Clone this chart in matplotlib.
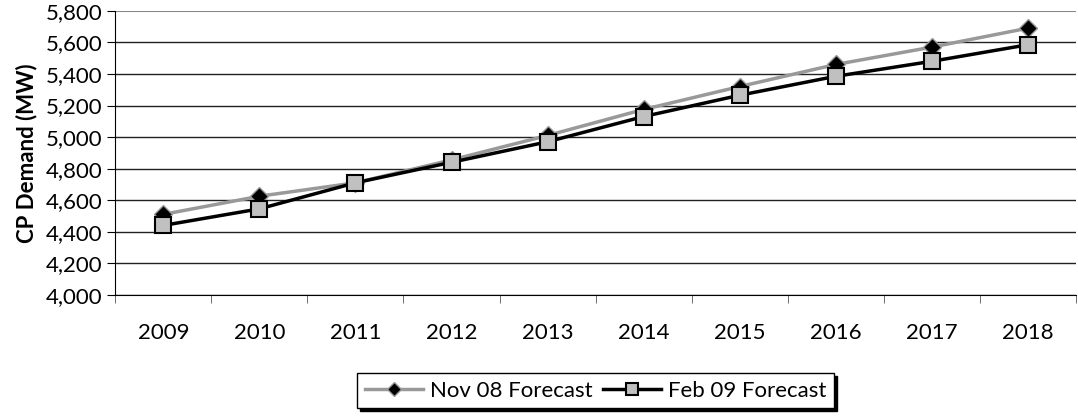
import numpy as np
import matplotlib
matplotlib.use('Agg')
from matplotlib import pyplot as plt
from matplotlib.ticker import FuncFormatter, FixedLocator

plt.rcParams['font.family'] = ['Lato', 'DejaVu Sans']

years = ['2009', '2010', '2011', '2012', '2013', '2014', '2015', '2016', '2017', '2018']
nov08 = [4510, 4625, 4710, 4855, 5010, 5175, 5320, 5460, 5570, 5690]
feb09 = [4440, 4545, 4710, 4840, 4970, 5130, 5265, 5385, 5480, 5585]

fig = plt.figure(figsize=(10.78, 4.17), dpi=100)
ax = fig.add_axes([0.107, 0.293, 0.891, 0.681])

x = np.arange(len(years))
ax.plot(x, nov08, color='#999999', lw=2.5, marker='D', ms=9,
        mfc='black', mec='#999999', mew=1, label='Nov 08 Forecast', zorder=3)
ax.plot(x, feb09, color='black', lw=2.5, marker='s', ms=11,
        mfc='#c0c0c0', mec='black', mew=1.5, label='Feb 09 Forecast', zorder=4)

ax.set_xlim(-0.5, len(years) - 0.5)
ax.set_ylim(4000, 5800)
ax.set_yticks(np.arange(4000, 5801, 200))
ax.yaxis.set_major_formatter(FuncFormatter(lambda v, p: f'{int(v):,}'))
ax.grid(axis='y', color='#222222', lw=1)
ax.set_axisbelow(True)
grid = ax.get_ygridlines()
grid[-1].set_color('#888888')
grid[-1].set_linewidth(1.5)

ax.set_xticks(x)
ax.set_xticklabels(years)
ax.tick_params(axis='x', which='major', length=0, pad=20, labelsize=16)
ax.xaxis.set_minor_locator(FixedLocator(np.arange(-0.5, len(years), 1)))
ax.tick_params(axis='x', which='minor', length=6, color='#555555', direction='out')
ax.tick_params(axis='y', length=6, labelsize=16, pad=3)

for s in ['top', 'right']:
    ax.spines[s].set_visible(False)
ax.spines['left'].set_color('black')
ax.spines['bottom'].set_color('black')

ax.set_ylabel('CP Demand (MW)', fontsize=16, fontweight='bold', labelpad=6)

leg = ax.legend(loc='upper center', bbox_to_anchor=(0.5, -0.275), ncol=2,
                frameon=True, fancybox=False, shadow={'color': 'black', 'alpha': 1},
                fontsize=16, handlelength=2.6, columnspacing=0.5,
                handletextpad=0.3, borderpad=0.35, borderaxespad=0, markerscale=0.8)
leg.get_frame().set_edgecolor('black')
leg.get_frame().set_linewidth(1)

fig.savefig('out.png', dpi=100)
